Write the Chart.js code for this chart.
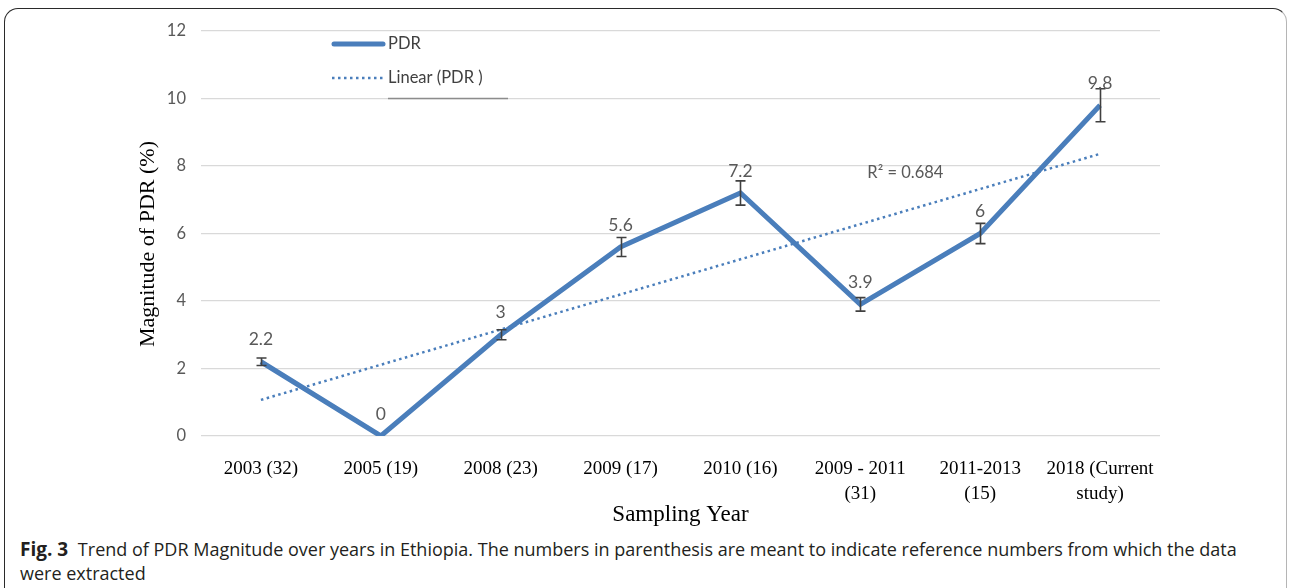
<!DOCTYPE html>
<html lang="en">
<head>
    <meta charset="UTF-8">
    <title>Trend of PDR Magnitude</title>
    <script src="https://cdnjs.cloudflare.com/ajax/libs/Chart.js/4.4.0/chart.umd.min.js"></script>
    <style>
        body { margin: 0; background: #fff; }
        #page { position: relative; width: 1290px; height: 588px; overflow: hidden; }
        #frame {
            position: absolute; left: 4px; top: 8px; width: 1281px; height: 700px;
            border: 1.5px solid #2a2a2a; border-right-color: #b5b5b5; border-radius: 14px;
        }
        #chart_parent { position: absolute; left: 0; top: 0; width: 1290px; height: 530px; }
        #caption {
            position: absolute; left: 20px; top: 537px; width: 1265px;
            font-family: "Open Sans", "Noto Sans", sans-serif; font-size: 18px; line-height: 24px;
            color: #231f20; white-space: nowrap;
        }
        #caption b { font-weight: 700; font-size: 19px; margin-right: 5px; }
    </style>
</head>
<body>
<div id="page">
    <div id="frame"></div>
    <div id="chart_parent">
        <canvas id="myChart"></canvas>
    </div>
    <div id="caption"><b>Fig. 3</b> Trend of PDR Magnitude over years in Ethiopia. The numbers in parenthesis are meant to indicate reference numbers from which the data<br>were extracted</div>
</div>
<script>
    // categories (reference numbers in parenthesis)
    var v_labels = ['2003 (32)', '2005 (19)', '2008 (23)', '2009 (17)', '2010 (16)',
        ['2009 - 2011', '(31)'], ['2011-2013', '(15)'], ['2018 (Current', 'study)']];
    // magnitude of PDR (%)
    var v_pdr = [2.2, 0, 3, 5.6, 7.2, 3.9, 6, 9.8];
    // error bar half-lengths
    var v_err = [0.11, 0, 0.15, 0.28, 0.36, 0.2, 0.3, 0.49];
    // linear trend line ends
    var v_trend = [1.07, null, null, null, null, null, null, 8.36];
    var v_r2 = 'R\u00B2 = 0.684';

    var c_blue = '#4a7ebb';
    var c_gray = '#595959';

    // error bars, value labels, R², y title and the legend
    var p_overlay = {
        id: 'overlay',
        afterDatasetsDraw: function(chart) {
            var ctx = chart.ctx;
            var xs = chart.scales.x, ys = chart.scales.y;
            ctx.save();

            ctx.strokeStyle = '#404040';
            ctx.lineWidth = 1.6;
            v_pdr.forEach(function(v, i) {
                var e = v_err[i];
                if (!e) return;
                var px = Math.round(xs.getPixelForValue(i)) + 0.5;
                var t = ys.getPixelForValue(v + e), b = ys.getPixelForValue(v - e);
                ctx.beginPath();
                ctx.moveTo(px, t); ctx.lineTo(px, b);
                ctx.moveTo(px - 5, t); ctx.lineTo(px + 5, t);
                ctx.moveTo(px - 5, b); ctx.lineTo(px + 5, b);
                ctx.stroke();
            });

            ctx.fillStyle = c_gray;
            ctx.font = '17.5px Lato, sans-serif';
            ctx.textAlign = 'center';
            ctx.textBaseline = 'middle';
            v_pdr.forEach(function(v, i) {
                ctx.fillText(String(v), xs.getPixelForValue(i), ys.getPixelForValue(v) - 22);
            });

            ctx.font = '16.5px Lato, sans-serif';
            ctx.textAlign = 'left';
            ctx.fillText(v_r2, xs.getPixelForValue(5) + 7, ys.getPixelForValue(7.8));

            // y axis title, a little below the plot centre as in the source
            ctx.save();
            ctx.translate(148, 244);
            ctx.rotate(-Math.PI / 2);
            ctx.textAlign = 'center';
            ctx.fillStyle = '#000';
            ctx.font = '22px "Liberation Serif", serif';
            ctx.fillText('Magnitude of PDR (%)', 0, 0);
            ctx.restore();

            // legend
            var lx = 332, lw = 53;
            ctx.strokeStyle = c_blue;
            ctx.lineCap = 'round';
            ctx.lineWidth = 5;
            ctx.beginPath(); ctx.moveTo(lx + 2, 44); ctx.lineTo(lx + lw - 2, 44); ctx.stroke();
            ctx.lineCap = 'butt';
            ctx.lineWidth = 2.5;
            ctx.setLineDash([2.5, 3.5]);
            ctx.beginPath(); ctx.moveTo(lx, 78); ctx.lineTo(lx + lw, 78); ctx.stroke();
            ctx.setLineDash([]);
            ctx.fillStyle = '#404040';
            ctx.font = '16.5px Lato, sans-serif';
            ctx.fillText('PDR', lx + 56, 44);
            ctx.fillText('Linear (PDR )', lx + 56, 78);
            ctx.strokeStyle = '#8c8c8c';
            ctx.lineWidth = 1.5;
            ctx.beginPath(); ctx.moveTo(388, 98.5); ctx.lineTo(508, 98.5); ctx.stroke();

            ctx.restore();
        }
    };

    const ctx = document.getElementById('myChart').getContext('2d');
    const myChart = new Chart(ctx, {
        type: 'line',
        data: {
            labels: v_labels,
            datasets: [{
                label: 'PDR',
                data: v_pdr,
                borderColor: c_blue,
                borderWidth: 5,
                borderJoinStyle: 'miter',
                pointRadius: 0,
                tension: 0
            }, {
                label: 'Linear (PDR )',
                data: v_trend,
                spanGaps: true,
                borderColor: c_blue,
                borderWidth: 2.5,
                borderDash: [2.5, 3.5],
                pointRadius: 0
            }]
        },
        options: {
            responsive: true,
            maintainAspectRatio: false,
            animation: false,
            layout: { padding: { left: 0, top: 31, right: 130, bottom: 0 } },
            plugins: { legend: { display: false }, tooltip: { enabled: false } },
            scales: {
                x: {
                    offset: true,
                    grid: { display: false },
                    border: { display: false },
                    ticks: {
                        color: '#000',
                        padding: 12,
                        maxRotation: 0,
                        autoSkip: false,
                        font: { family: '"Liberation Serif", serif', size: 19, lineHeight: 1.35 }
                    },
                    title: {
                        display: true,
                        text: 'Sampling Year',
                        color: '#000',
                        padding: { top: 0, bottom: 1 },
                        font: { family: '"Liberation Serif", serif', size: 23 }
                    },
                    afterFit: function(s) { s.height = 94; }
                },
                y: {
                    min: 0,
                    max: 12,
                    ticks: {
                        stepSize: 2,
                        color: c_gray,
                        padding: 15,
                        font: { family: 'Lato, sans-serif', size: 16.5 }
                    },
                    grid: { color: '#d9d9d9', lineWidth: 1.3, drawTicks: false },
                    border: { display: false },
                    afterFit: function(s) { s.width = 201; }
                }
            }
        },
        plugins: [p_overlay]
    });
</script>
</body>
</html>
